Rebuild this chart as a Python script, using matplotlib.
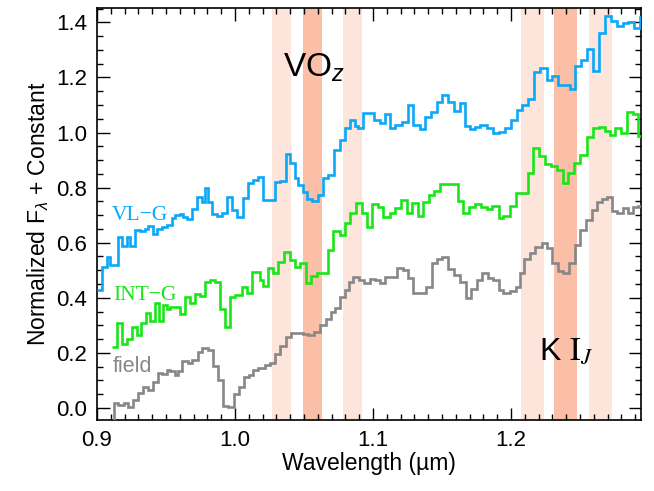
import matplotlib
matplotlib.use("Agg")
import matplotlib.pyplot as plt
from matplotlib.ticker import MultipleLocator, FormatStrFormatter

plt.rcParams['font.family'] = ['Liberation Sans', 'DejaVu Sans']
plt.rcParams['mathtext.fontset'] = 'custom'
plt.rcParams['mathtext.rm'] = 'Liberation Sans'
plt.rcParams['mathtext.it'] = 'Liberation Sans:italic'

# ---------------- data (wavelength bin edges in micron, normalized flux + offset) -------------
vlg_edges = [0.9000, 0.9036, 0.9072, 0.9094, 0.9152, 0.9181, 0.9217, 0.9239, 0.9275, 0.9312,
             0.9348, 0.9370, 0.9406, 0.9435, 0.9471, 0.9507, 0.9543, 0.9565, 0.9601, 0.9623,
             0.9652, 0.9688, 0.9725, 0.9761, 0.9783, 0.9804, 0.9833, 0.9870, 0.9906, 0.9942,
             0.9978, 1.0014, 1.0058, 1.0094, 1.0130, 1.0167, 1.0203, 1.0290, 1.0326, 1.0370,
             1.0399, 1.0435, 1.0457, 1.0493, 1.0522, 1.0558, 1.0601, 1.0638, 1.0674, 1.0717,
             1.0761, 1.0797, 1.0833, 1.0870, 1.0891, 1.0928, 1.1007, 1.1051, 1.1087, 1.1123,
             1.1159, 1.1210, 1.1254, 1.1290, 1.1341, 1.1377, 1.1420, 1.1464, 1.1500, 1.1543,
             1.1587, 1.1630, 1.1667, 1.1703, 1.1739, 1.1775, 1.1826, 1.1870, 1.1913, 1.1957,
             1.2000, 1.2043, 1.2080, 1.2123, 1.2167, 1.2210, 1.2261, 1.2297, 1.2341, 1.2428,
             1.2464, 1.2507, 1.2551, 1.2594, 1.2638, 1.2681, 1.2725, 1.2768, 1.2812, 1.2848,
             1.2891, 1.2935, 1.2960]
vlg_flux = [0.428, 0.512, 0.548, 0.519, 0.621, 0.588, 0.621, 0.588, 0.646, 0.642,
            0.650, 0.661, 0.632, 0.650, 0.657, 0.664, 0.690, 0.701, 0.704, 0.693,
            0.686, 0.722, 0.766, 0.748, 0.799, 0.748, 0.704, 0.697, 0.708, 0.766,
            0.719, 0.693, 0.762, 0.817, 0.828, 0.838, 0.755, 0.820, 0.824, 0.922,
            0.889, 0.835, 0.809, 0.784, 0.759, 0.751, 0.773, 0.835, 0.846, 0.936,
            0.973, 1.016, 1.045, 1.024, 1.016, 1.071, 1.045, 1.034, 1.067, 1.016,
            1.027, 1.038, 1.100, 1.027, 1.013, 1.056, 1.074, 1.111, 1.136, 1.111,
            1.078, 1.107, 1.024, 1.013, 1.020, 1.027, 1.016, 0.998, 1.002, 1.016,
            1.045, 1.082, 1.100, 1.122, 1.220, 1.234, 1.191, 1.205, 1.172, 1.158,
            1.241, 1.263, 1.303, 1.223, 1.361, 1.423, 1.405, 1.387, 1.397, 1.401,
            1.379, 1.419]

intg_edges = [0.9109, 0.9145, 0.9181, 0.9217, 0.9254, 0.9290, 0.9319, 0.9355, 0.9384, 0.9420,
              0.9449, 0.9478, 0.9507, 0.9529, 0.9565, 0.9601, 0.9638, 0.9674, 0.9710, 0.9746,
              0.9783, 0.9819, 0.9855, 0.9891, 0.9928, 0.9964, 1.0000, 1.0051, 1.0087, 1.0123,
              1.0181, 1.0203, 1.0239, 1.0275, 1.0312, 1.0355, 1.0399, 1.0435, 1.0471, 1.0514,
              1.0551, 1.0594, 1.0674, 1.0710, 1.0761, 1.0797, 1.0833, 1.0877, 1.0920, 1.0957,
              1.0993, 1.1036, 1.1072, 1.1123, 1.1159, 1.1203, 1.1246, 1.1283, 1.1326, 1.1362,
              1.1406, 1.1442, 1.1486, 1.1616, 1.1652, 1.1696, 1.1739, 1.1783, 1.1826, 1.1862,
              1.1913, 1.1942, 1.1993, 1.2036, 1.2123, 1.2159, 1.2203, 1.2246, 1.2290, 1.2333,
              1.2377, 1.2413, 1.2457, 1.2500, 1.2551, 1.2594, 1.2638, 1.2681, 1.2717, 1.2754,
              1.2797, 1.2841, 1.2884, 1.2920, 1.2960]
intg_flux = [0.221, 0.309, 0.232, 0.250, 0.294, 0.265, 0.309, 0.345, 0.316, 0.381,
             0.316, 0.374, 0.359, 0.367, 0.367, 0.341, 0.403, 0.381, 0.414, 0.407,
             0.457, 0.465, 0.457, 0.359, 0.294, 0.403, 0.410, 0.439, 0.417, 0.494,
             0.465, 0.443, 0.508, 0.490, 0.530, 0.566, 0.537, 0.512, 0.526, 0.454,
             0.479, 0.490, 0.573, 0.642, 0.628, 0.672, 0.708, 0.744, 0.708, 0.657,
             0.740, 0.730, 0.693, 0.708, 0.726, 0.755, 0.708, 0.744, 0.697, 0.748,
             0.773, 0.788, 0.813, 0.751, 0.708, 0.730, 0.740, 0.730, 0.722, 0.733,
             0.690, 0.697, 0.733, 0.780, 0.853, 0.944, 0.915, 0.886, 0.878, 0.864,
             0.817, 0.853, 0.889, 0.918, 0.984, 1.016, 1.020, 1.005, 0.991, 1.016,
             0.998, 1.074, 1.067, 0.987]

field_edges = [0.9109, 0.9123, 0.9152, 0.9196, 0.9225, 0.9261, 0.9297, 0.9333, 0.9370, 0.9406,
               0.9442, 0.9471, 0.9507, 0.9529, 0.9565, 0.9587, 0.9616, 0.9659, 0.9688, 0.9732,
               0.9761, 0.9804, 0.9841, 0.9877, 0.9913, 0.9949, 0.9993, 1.0029, 1.0065, 1.0101,
               1.0130, 1.0167, 1.0217, 1.0254, 1.0290, 1.0326, 1.0370, 1.0406, 1.0457, 1.0493,
               1.0529, 1.0572, 1.0616, 1.0659, 1.0696, 1.0725, 1.0761, 1.0797, 1.0826, 1.0855,
               1.0899, 1.0935, 1.0978, 1.1014, 1.1051, 1.1087, 1.1174, 1.1217, 1.1254, 1.1290,
               1.1384, 1.1428, 1.1464, 1.1500, 1.1543, 1.1587, 1.1630, 1.1674, 1.1710, 1.1754,
               1.1790, 1.1833, 1.1870, 1.1913, 1.1942, 1.1993, 1.2036, 1.2065, 1.2094, 1.2138,
               1.2174, 1.2225, 1.2261, 1.2297, 1.2341, 1.2377, 1.2420, 1.2464, 1.2500, 1.2543,
               1.2587, 1.2623, 1.2659, 1.2696, 1.2732, 1.2768, 1.2812, 1.2848, 1.2884, 1.2920,
               1.2960]
field_flux = [-0.050, 0.018, 0.011, 0.018, 0.004, 0.029, 0.054, 0.076, 0.065, 0.094,
              0.127, 0.123, 0.138, 0.134, 0.120, 0.134, 0.171, 0.163, 0.174, 0.203,
              0.218, 0.211, 0.152, 0.102, 0.007, 0.004, 0.051, 0.076, 0.113, 0.120,
              0.138, 0.145, 0.156, 0.163, 0.196, 0.225, 0.258, 0.272, 0.272, 0.269,
              0.265, 0.276, 0.301, 0.323, 0.348, 0.363, 0.403, 0.428, 0.457, 0.475,
              0.465, 0.454, 0.468, 0.465, 0.454, 0.475, 0.508, 0.501, 0.472, 0.417,
              0.439, 0.526, 0.541, 0.548, 0.505, 0.483, 0.457, 0.399, 0.432, 0.465,
              0.490, 0.472, 0.465, 0.428, 0.417, 0.425, 0.439, 0.490, 0.541, 0.563,
              0.584, 0.599, 0.581, 0.526, 0.497, 0.490, 0.526, 0.592, 0.646, 0.682,
              0.719, 0.748, 0.759, 0.766, 0.715, 0.708, 0.726, 0.708, 0.730, 0.733]

# index bands: (start, end) in micron
continuum_bands = [(1.0268, 1.0406), (1.0783, 1.0920), (1.2072, 1.2239), (1.2565, 1.2732)]
feature_bands = [(1.0493, 1.0630), (1.2312, 1.2478)]

series = [
    ("VL\u2212G", vlg_edges, vlg_flux, "#0aa8f8", 0.9110, 0.700),
    ("INT\u2212G", intg_edges, intg_flux, "#19e619", 0.9115, 0.410),
    ("field", field_edges, field_flux, "#878787", 0.9115, 0.150),
]

# ---------------- figure ----------------
fig = plt.figure(figsize=(6.54, 4.91), dpi=100)
ax = fig.add_axes([0.1483, 0.1446, 0.9801 - 0.1483, 0.9837 - 0.1446])

for a, b in continuum_bands:
    ax.axvspan(a, b, color="#fde5db", lw=0, zorder=0)
for a, b in feature_bands:
    ax.axvspan(a, b, color="#fbbea6", lw=0, zorder=0)

for name, edges, flux, col, tx, ty in series:
    ax.stairs(flux, edges, baseline=None, color=col, lw=1.9, zorder=3)
    fam = ["Liberation Sans"] if name == "field" else ["Liberation Serif"]
    ax.text(tx, ty, name, color=col, fontsize=15.5, ha="left", va="center", family=fam)

ax.text(1.0345, 1.234, r"VO$_z$", fontsize=24, ha="left", va="center", color="black")
ax.text(1.2205, 0.205, r"K $\mathrm{I}_J$", fontsize=23, ha="left", va="center",
        color="black", math_fontfamily="stix")

ax.set_xlim(0.9, 1.2942)
ax.set_ylim(-0.0436, 1.452)
ax.xaxis.set_major_locator(MultipleLocator(0.1))
ax.xaxis.set_minor_locator(MultipleLocator(0.01))
ax.yaxis.set_major_locator(MultipleLocator(0.2))
ax.yaxis.set_minor_locator(MultipleLocator(0.05))
ax.xaxis.set_major_formatter(FormatStrFormatter("%.1f"))
ax.yaxis.set_major_formatter(FormatStrFormatter("%.1f"))
ax.tick_params(which="both", direction="in", top=True, right=True, width=1.0,
               labelsize=16, colors="black")
ax.tick_params(which="major", length=9, pad=7)
ax.tick_params(which="minor", length=4.5)
for s in ax.spines.values():
    s.set_linewidth(1.2)

ax.set_xlabel("Wavelength (\u00b5m)", fontsize=16.5, labelpad=1)
ax.set_ylabel(r"Normalized F$_\lambda$ + Constant", fontsize=16.5, labelpad=4)

fig.savefig("out.png", dpi=100)
